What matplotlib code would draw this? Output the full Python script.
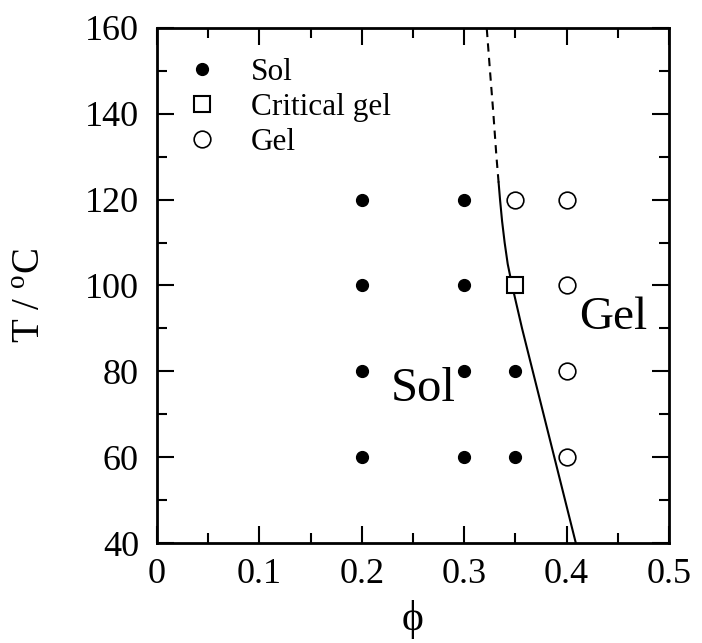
import numpy as np
import matplotlib
matplotlib.use("Agg")
import matplotlib.pyplot as plt
from matplotlib.ticker import MultipleLocator

plt.rcParams['font.family'] = ['Liberation Serif', 'DejaVu Serif']
plt.rcParams['mathtext.fontset'] = 'custom'
plt.rcParams['mathtext.rm'] = 'Liberation Serif'

# measured points
sol_phi = [0.2, 0.3, 0.2, 0.3, 0.2, 0.3, 0.35, 0.2, 0.3, 0.35]
sol_T = [120, 120, 100, 100, 80, 80, 80, 60, 60, 60]
crit_phi = [0.35]
crit_T = [100]
gel_phi = [0.35, 0.4, 0.4, 0.4, 0.4]
gel_T = [120, 120, 100, 80, 60]

# sol-gel boundary
line_phi = [0.409, 0.3985, 0.388, 0.3775, 0.367, 0.3565, 0.3468, 0.3425,
            0.3395, 0.3370, 0.3350, 0.3336]
line_T = [40, 50, 60, 70, 80, 90, 100, 105, 110, 115, 120, 124]
dash_phi = [0.3336, 0.3315, 0.3285, 0.3252, 0.3220]
dash_T = [124, 130, 140, 150, 160]

fig = plt.figure(figsize=(7.02, 6.43), dpi=100)
ax = fig.add_axes([0.2236, 0.1555, 0.953 - 0.2236, 0.9565 - 0.1555])

ax.plot(line_phi, line_T, color='k', lw=1.5)
ax.plot(dash_phi, dash_T, color='k', lw=1.5, ls=(0, (4, 3)))

ax.plot(sol_phi, sol_T, 'o', color='k', ms=8.5, ls='none', label='Sol')
ax.plot(crit_phi, crit_T, 's', mfc='white', mec='k', mew=1.5, ms=11.5,
        ls='none', label='Critical gel')
ax.plot(gel_phi, gel_T, 'o', mfc='white', mec='k', mew=1.2, ms=12,
        ls='none', label='Gel')

ax.text(0.26, 76, 'Sol', fontsize=35, ha='center', va='center')
ax.text(0.446, 92.5, 'Gel', fontsize=34, ha='center', va='center')

ax.set_xlim(0, 0.5)
ax.set_ylim(40, 160)
ax.xaxis.set_major_locator(MultipleLocator(0.1))
ax.xaxis.set_minor_locator(MultipleLocator(0.05))
ax.yaxis.set_major_locator(MultipleLocator(20))
ax.yaxis.set_minor_locator(MultipleLocator(10))
ax.xaxis.set_major_formatter(plt.FuncFormatter(lambda v, p: '0' if v == 0 else f'{v:.1f}'))
ax.tick_params(which='both', direction='in', top=True, right=True,
               labelsize=26, width=1.5)
ax.tick_params(axis='x', pad=11)
ax.tick_params(axis='y', pad=13)
ax.tick_params(which='major', length=12)
ax.tick_params(which='minor', length=7)
for s in ax.spines.values():
    s.set_linewidth(2)

ax.set_xlabel('ϕ', fontsize=30, labelpad=6)
ax.set_ylabel('T / $^{\\mathrm{o}}$C', fontsize=28)
ax.yaxis.set_label_coords(-0.21, 0.48)

leg = ax.legend(loc='upper left', bbox_to_anchor=(-0.012, 0.997), frameon=False,
                fontsize=22.5, handletextpad=0.8, labelspacing=0.2,
                borderaxespad=0.5, handlelength=1.5)

fig.savefig('out.png', dpi=100)
